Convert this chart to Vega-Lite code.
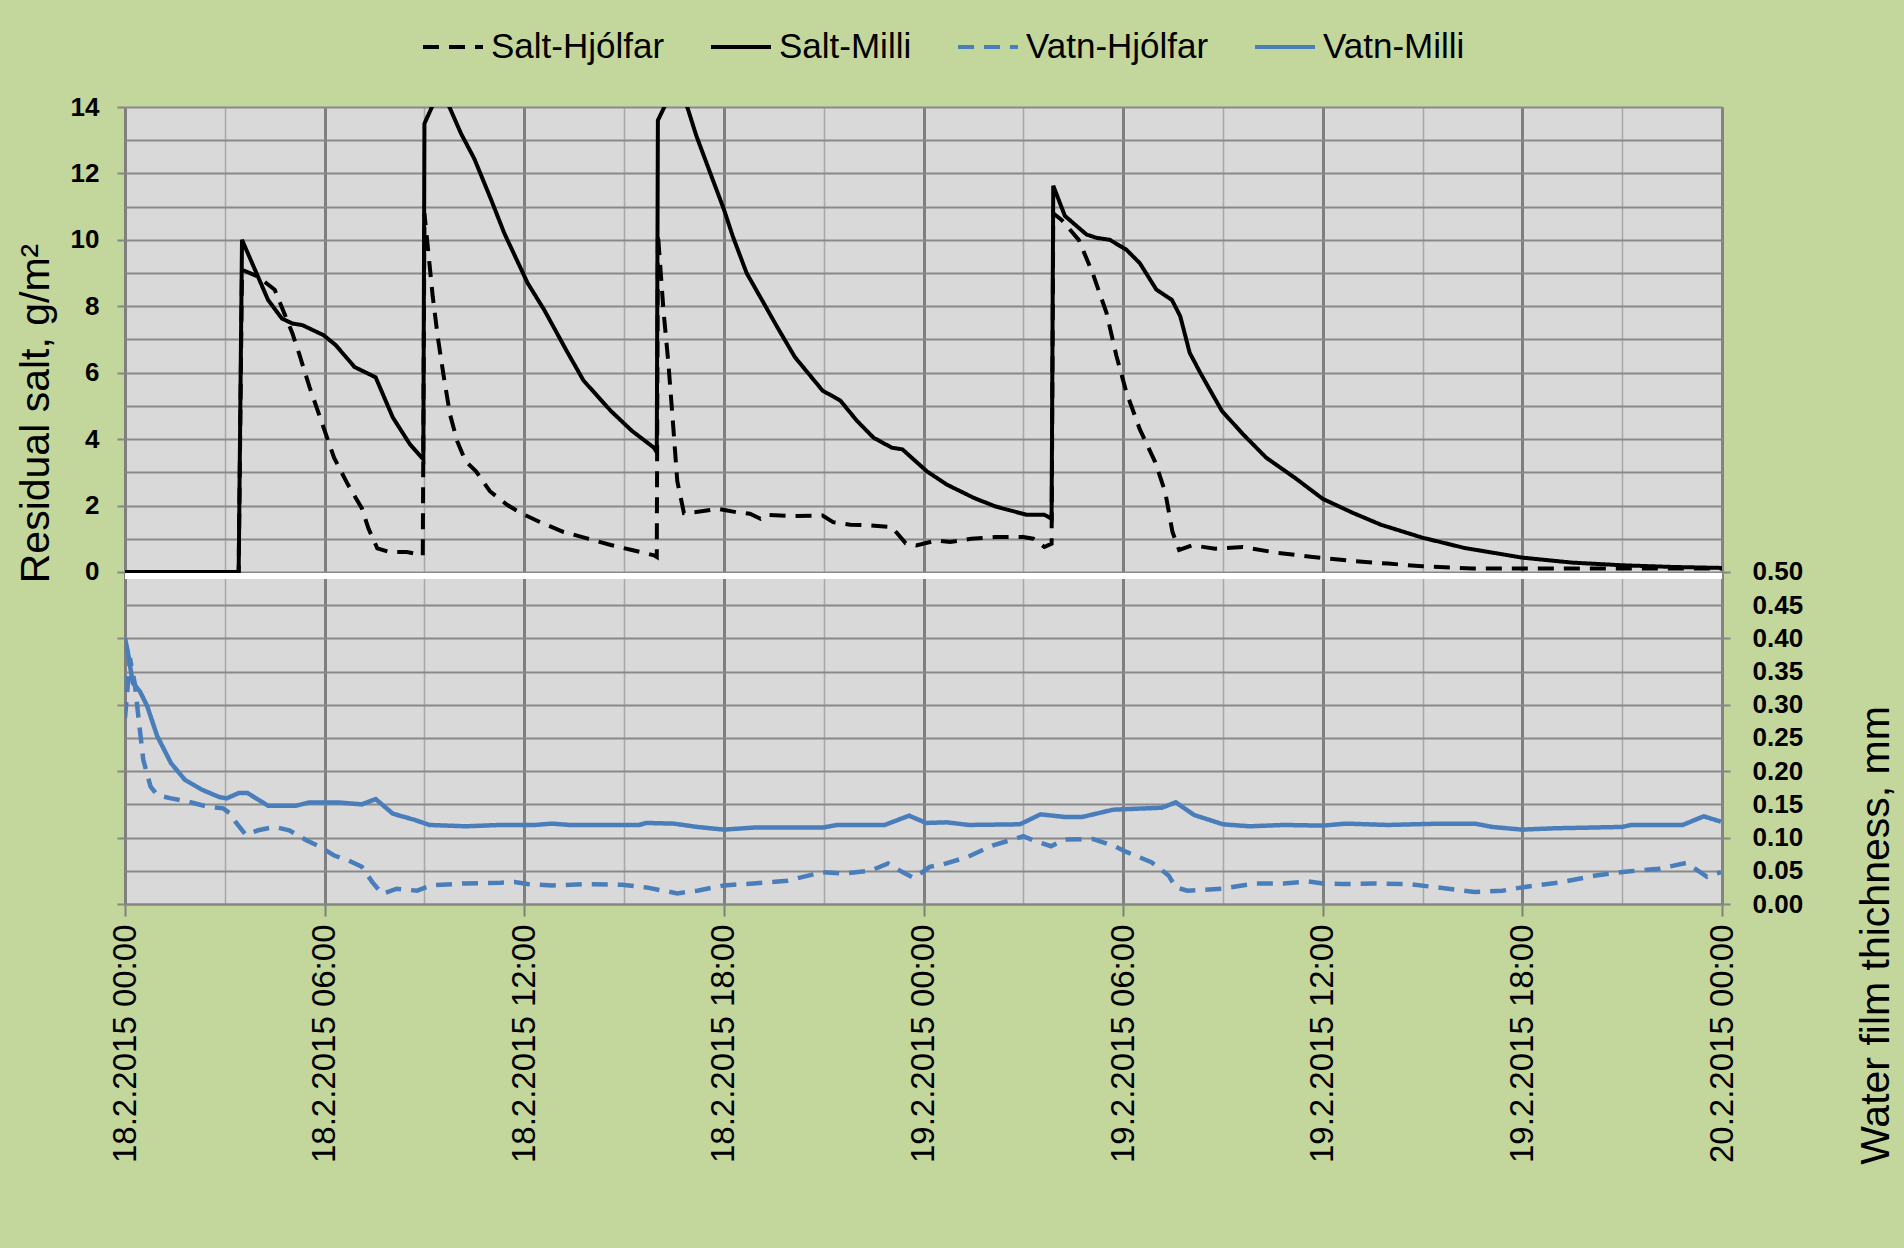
{
  "$schema": "https://vega.github.io/schema/vega-lite/v6.json",
  "width": 1597,
  "height": 797,
  "autosize": {"type": "none"},
  "padding": {"left": 125, "top": 107, "right": 182, "bottom": 344},
  "background": "#c3d69b",
  "config": {
    "view": {"fill": "#d9d9d9", "stroke": null},
    "font": "Liberation Sans",
    "axis": {"labelFont": "Liberation Sans", "titleFont": "Liberation Sans", "labelColor": "black", "titleColor": "black"}
  },
  "datasets": {
    "salt": [
      {"t": "2015-02-18T00:00", "series": "Salt-Milli", "v": 0},
      {"t": "2015-02-18T03:25", "series": "Salt-Milli", "v": 0},
      {"t": "2015-02-18T03:31", "series": "Salt-Milli", "v": 10.0},
      {"t": "2015-02-18T04:18", "series": "Salt-Milli", "v": 8.19},
      {"t": "2015-02-18T04:43", "series": "Salt-Milli", "v": 7.63},
      {"t": "2015-02-18T05:02", "series": "Salt-Milli", "v": 7.48},
      {"t": "2015-02-18T05:20", "series": "Salt-Milli", "v": 7.43},
      {"t": "2015-02-18T05:58", "series": "Salt-Milli", "v": 7.13},
      {"t": "2015-02-18T06:20", "series": "Salt-Milli", "v": 6.83},
      {"t": "2015-02-18T06:54", "series": "Salt-Milli", "v": 6.17},
      {"t": "2015-02-18T07:32", "series": "Salt-Milli", "v": 5.86},
      {"t": "2015-02-18T08:03", "series": "Salt-Milli", "v": 4.65},
      {"t": "2015-02-18T08:34", "series": "Salt-Milli", "v": 3.84},
      {"t": "2015-02-18T08:58", "series": "Salt-Milli", "v": 3.39},
      {"t": "2015-02-18T09:00", "series": "Salt-Milli", "v": 13.5},
      {"t": "2015-02-18T09:27", "series": "Salt-Milli", "v": 14.5},
      {"t": "2015-02-18T09:45", "series": "Salt-Milli", "v": 14.0},
      {"t": "2015-02-18T10:06", "series": "Salt-Milli", "v": 13.2},
      {"t": "2015-02-18T10:30", "series": "Salt-Milli", "v": 12.44},
      {"t": "2015-02-18T11:00", "series": "Salt-Milli", "v": 11.22},
      {"t": "2015-02-18T11:24", "series": "Salt-Milli", "v": 10.2},
      {"t": "2015-02-18T12:06", "series": "Salt-Milli", "v": 8.7},
      {"t": "2015-02-18T12:36", "series": "Salt-Milli", "v": 7.89},
      {"t": "2015-02-18T13:16", "series": "Salt-Milli", "v": 6.67},
      {"t": "2015-02-18T13:47", "series": "Salt-Milli", "v": 5.76},
      {"t": "2015-02-18T14:36", "series": "Salt-Milli", "v": 4.85},
      {"t": "2015-02-18T15:14", "series": "Salt-Milli", "v": 4.25},
      {"t": "2015-02-18T15:54", "series": "Salt-Milli", "v": 3.74},
      {"t": "2015-02-18T15:59", "series": "Salt-Milli", "v": 3.6},
      {"t": "2015-02-18T16:01", "series": "Salt-Milli", "v": 13.6},
      {"t": "2015-02-18T16:30", "series": "Salt-Milli", "v": 14.6},
      {"t": "2015-02-18T16:54", "series": "Salt-Milli", "v": 14.0},
      {"t": "2015-02-18T17:10", "series": "Salt-Milli", "v": 13.15},
      {"t": "2015-02-18T17:35", "series": "Salt-Milli", "v": 12.03},
      {"t": "2015-02-18T18:00", "series": "Salt-Milli", "v": 10.92},
      {"t": "2015-02-18T18:16", "series": "Salt-Milli", "v": 10.11},
      {"t": "2015-02-18T18:41", "series": "Salt-Milli", "v": 9.0},
      {"t": "2015-02-18T19:12", "series": "Salt-Milli", "v": 8.09},
      {"t": "2015-02-18T19:36", "series": "Salt-Milli", "v": 7.38},
      {"t": "2015-02-18T20:08", "series": "Salt-Milli", "v": 6.47},
      {"t": "2015-02-18T20:58", "series": "Salt-Milli", "v": 5.46},
      {"t": "2015-02-18T21:30", "series": "Salt-Milli", "v": 5.16},
      {"t": "2015-02-18T22:00", "series": "Salt-Milli", "v": 4.55},
      {"t": "2015-02-18T22:30", "series": "Salt-Milli", "v": 4.04},
      {"t": "2015-02-18T23:03", "series": "Salt-Milli", "v": 3.74},
      {"t": "2015-02-18T23:22", "series": "Salt-Milli", "v": 3.69},
      {"t": "2015-02-19T00:06", "series": "Salt-Milli", "v": 3.03},
      {"t": "2015-02-19T00:42", "series": "Salt-Milli", "v": 2.63},
      {"t": "2015-02-19T01:32", "series": "Salt-Milli", "v": 2.22},
      {"t": "2015-02-19T02:10", "series": "Salt-Milli", "v": 1.97},
      {"t": "2015-02-19T03:06", "series": "Salt-Milli", "v": 1.72},
      {"t": "2015-02-19T03:38", "series": "Salt-Milli", "v": 1.72},
      {"t": "2015-02-19T03:51", "series": "Salt-Milli", "v": 1.6},
      {"t": "2015-02-19T03:54", "series": "Salt-Milli", "v": 11.63},
      {"t": "2015-02-19T04:15", "series": "Salt-Milli", "v": 10.72},
      {"t": "2015-02-19T04:54", "series": "Salt-Milli", "v": 10.16},
      {"t": "2015-02-19T05:12", "series": "Salt-Milli", "v": 10.06},
      {"t": "2015-02-19T05:36", "series": "Salt-Milli", "v": 10.0},
      {"t": "2015-02-19T06:06", "series": "Salt-Milli", "v": 9.7},
      {"t": "2015-02-19T06:30", "series": "Salt-Milli", "v": 9.3},
      {"t": "2015-02-19T07:00", "series": "Salt-Milli", "v": 8.5},
      {"t": "2015-02-19T07:28", "series": "Salt-Milli", "v": 8.19},
      {"t": "2015-02-19T07:43", "series": "Salt-Milli", "v": 7.7},
      {"t": "2015-02-19T08:00", "series": "Salt-Milli", "v": 6.6},
      {"t": "2015-02-19T08:20", "series": "Salt-Milli", "v": 5.97},
      {"t": "2015-02-19T08:58", "series": "Salt-Milli", "v": 4.85},
      {"t": "2015-02-19T09:36", "series": "Salt-Milli", "v": 4.15},
      {"t": "2015-02-19T10:18", "series": "Salt-Milli", "v": 3.44},
      {"t": "2015-02-19T11:10", "series": "Salt-Milli", "v": 2.83},
      {"t": "2015-02-19T12:00", "series": "Salt-Milli", "v": 2.2},
      {"t": "2015-02-19T12:54", "series": "Salt-Milli", "v": 1.78},
      {"t": "2015-02-19T13:45", "series": "Salt-Milli", "v": 1.42},
      {"t": "2015-02-19T15:00", "series": "Salt-Milli", "v": 1.03},
      {"t": "2015-02-19T16:16", "series": "Salt-Milli", "v": 0.72},
      {"t": "2015-02-19T18:00", "series": "Salt-Milli", "v": 0.43},
      {"t": "2015-02-19T19:30", "series": "Salt-Milli", "v": 0.28},
      {"t": "2015-02-19T21:00", "series": "Salt-Milli", "v": 0.2},
      {"t": "2015-02-19T22:30", "series": "Salt-Milli", "v": 0.15},
      {"t": "2015-02-20T00:00", "series": "Salt-Milli", "v": 0.12},
      {"t": "2015-02-18T00:00", "series": "Salt-Hjólfar", "v": 0},
      {"t": "2015-02-18T03:25", "series": "Salt-Hjólfar", "v": 0},
      {"t": "2015-02-18T03:31", "series": "Salt-Hjólfar", "v": 9.1},
      {"t": "2015-02-18T03:59", "series": "Salt-Hjólfar", "v": 8.9},
      {"t": "2015-02-18T04:30", "series": "Salt-Hjólfar", "v": 8.5},
      {"t": "2015-02-18T05:02", "series": "Salt-Hjólfar", "v": 7.18},
      {"t": "2015-02-18T05:14", "series": "Salt-Hjólfar", "v": 6.57},
      {"t": "2015-02-18T05:33", "series": "Salt-Hjólfar", "v": 5.56},
      {"t": "2015-02-18T05:58", "series": "Salt-Hjólfar", "v": 4.35},
      {"t": "2015-02-18T06:17", "series": "Salt-Hjólfar", "v": 3.44},
      {"t": "2015-02-18T06:42", "series": "Salt-Hjólfar", "v": 2.63},
      {"t": "2015-02-18T07:07", "series": "Salt-Hjólfar", "v": 1.92},
      {"t": "2015-02-18T07:19", "series": "Salt-Hjólfar", "v": 1.31},
      {"t": "2015-02-18T07:35", "series": "Salt-Hjólfar", "v": 0.71},
      {"t": "2015-02-18T07:57", "series": "Salt-Hjólfar", "v": 0.6},
      {"t": "2015-02-18T08:28", "series": "Salt-Hjólfar", "v": 0.6},
      {"t": "2015-02-18T08:57", "series": "Salt-Hjólfar", "v": 0.5},
      {"t": "2015-02-18T09:00", "series": "Salt-Hjólfar", "v": 10.8},
      {"t": "2015-02-18T09:15", "series": "Salt-Hjólfar", "v": 8.29},
      {"t": "2015-02-18T09:24", "series": "Salt-Hjólfar", "v": 7.08},
      {"t": "2015-02-18T09:34", "series": "Salt-Hjólfar", "v": 5.97},
      {"t": "2015-02-18T09:46", "series": "Salt-Hjólfar", "v": 4.75},
      {"t": "2015-02-18T09:59", "series": "Salt-Hjólfar", "v": 3.94},
      {"t": "2015-02-18T10:14", "series": "Salt-Hjólfar", "v": 3.34},
      {"t": "2015-02-18T10:33", "series": "Salt-Hjólfar", "v": 3.03},
      {"t": "2015-02-18T10:58", "series": "Salt-Hjólfar", "v": 2.43},
      {"t": "2015-02-18T11:29", "series": "Salt-Hjólfar", "v": 2.02},
      {"t": "2015-02-18T11:54", "series": "Salt-Hjólfar", "v": 1.77},
      {"t": "2015-02-18T12:26", "series": "Salt-Hjólfar", "v": 1.52},
      {"t": "2015-02-18T13:10", "series": "Salt-Hjólfar", "v": 1.21},
      {"t": "2015-02-18T13:53", "series": "Salt-Hjólfar", "v": 1.01},
      {"t": "2015-02-18T14:36", "series": "Salt-Hjólfar", "v": 0.81},
      {"t": "2015-02-18T15:14", "series": "Salt-Hjólfar", "v": 0.66},
      {"t": "2015-02-18T15:54", "series": "Salt-Hjólfar", "v": 0.5},
      {"t": "2015-02-18T15:59", "series": "Salt-Hjólfar", "v": 0.45},
      {"t": "2015-02-18T16:01", "series": "Salt-Hjólfar", "v": 10.2},
      {"t": "2015-02-18T16:11", "series": "Salt-Hjólfar", "v": 7.89},
      {"t": "2015-02-18T16:20", "series": "Salt-Hjólfar", "v": 6.27},
      {"t": "2015-02-18T16:27", "series": "Salt-Hjólfar", "v": 4.75},
      {"t": "2015-02-18T16:36", "series": "Salt-Hjólfar", "v": 2.73},
      {"t": "2015-02-18T16:48", "series": "Salt-Hjólfar", "v": 1.77},
      {"t": "2015-02-18T17:07", "series": "Salt-Hjólfar", "v": 1.8},
      {"t": "2015-02-18T17:50", "series": "Salt-Hjólfar", "v": 1.9},
      {"t": "2015-02-18T18:22", "series": "Salt-Hjólfar", "v": 1.8},
      {"t": "2015-02-18T18:47", "series": "Salt-Hjólfar", "v": 1.75},
      {"t": "2015-02-18T19:06", "series": "Salt-Hjólfar", "v": 1.6},
      {"t": "2015-02-18T19:18", "series": "Salt-Hjólfar", "v": 1.72},
      {"t": "2015-02-18T20:08", "series": "Salt-Hjólfar", "v": 1.68},
      {"t": "2015-02-18T20:58", "series": "Salt-Hjólfar", "v": 1.7},
      {"t": "2015-02-18T21:17", "series": "Salt-Hjólfar", "v": 1.5},
      {"t": "2015-02-18T21:48", "series": "Salt-Hjólfar", "v": 1.42},
      {"t": "2015-02-18T22:25", "series": "Salt-Hjólfar", "v": 1.4},
      {"t": "2015-02-18T23:03", "series": "Salt-Hjólfar", "v": 1.35},
      {"t": "2015-02-18T23:28", "series": "Salt-Hjólfar", "v": 0.86},
      {"t": "2015-02-18T23:47", "series": "Salt-Hjólfar", "v": 0.8},
      {"t": "2015-02-19T00:24", "series": "Salt-Hjólfar", "v": 0.95},
      {"t": "2015-02-19T00:48", "series": "Salt-Hjólfar", "v": 0.9},
      {"t": "2015-02-19T01:26", "series": "Salt-Hjólfar", "v": 1.0},
      {"t": "2015-02-19T02:10", "series": "Salt-Hjólfar", "v": 1.05},
      {"t": "2015-02-19T03:00", "series": "Salt-Hjólfar", "v": 1.05},
      {"t": "2015-02-19T03:18", "series": "Salt-Hjólfar", "v": 1.0},
      {"t": "2015-02-19T03:38", "series": "Salt-Hjólfar", "v": 0.75},
      {"t": "2015-02-19T03:51", "series": "Salt-Hjólfar", "v": 0.85},
      {"t": "2015-02-19T03:54", "series": "Salt-Hjólfar", "v": 10.8},
      {"t": "2015-02-19T04:09", "series": "Salt-Hjólfar", "v": 10.6},
      {"t": "2015-02-19T04:40", "series": "Salt-Hjólfar", "v": 10.0},
      {"t": "2015-02-19T05:05", "series": "Salt-Hjólfar", "v": 9.0},
      {"t": "2015-02-19T05:30", "series": "Salt-Hjólfar", "v": 7.8},
      {"t": "2015-02-19T05:48", "series": "Salt-Hjólfar", "v": 6.5},
      {"t": "2015-02-19T06:06", "series": "Salt-Hjólfar", "v": 5.4},
      {"t": "2015-02-19T06:30", "series": "Salt-Hjólfar", "v": 4.3},
      {"t": "2015-02-19T06:58", "series": "Salt-Hjólfar", "v": 3.3},
      {"t": "2015-02-19T07:16", "series": "Salt-Hjólfar", "v": 2.4},
      {"t": "2015-02-19T07:29", "series": "Salt-Hjólfar", "v": 1.2},
      {"t": "2015-02-19T07:41", "series": "Salt-Hjólfar", "v": 0.66},
      {"t": "2015-02-19T08:05", "series": "Salt-Hjólfar", "v": 0.8},
      {"t": "2015-02-19T08:46", "series": "Salt-Hjólfar", "v": 0.7},
      {"t": "2015-02-19T09:36", "series": "Salt-Hjólfar", "v": 0.75},
      {"t": "2015-02-19T10:36", "series": "Salt-Hjólfar", "v": 0.58},
      {"t": "2015-02-19T11:42", "series": "Salt-Hjólfar", "v": 0.45},
      {"t": "2015-02-19T12:00", "series": "Salt-Hjólfar", "v": 0.42},
      {"t": "2015-02-19T12:54", "series": "Salt-Hjólfar", "v": 0.33},
      {"t": "2015-02-19T13:58", "series": "Salt-Hjólfar", "v": 0.25},
      {"t": "2015-02-19T15:00", "series": "Salt-Hjólfar", "v": 0.17},
      {"t": "2015-02-19T16:30", "series": "Salt-Hjólfar", "v": 0.1},
      {"t": "2015-02-19T18:00", "series": "Salt-Hjólfar", "v": 0.1},
      {"t": "2015-02-19T20:00", "series": "Salt-Hjólfar", "v": 0.1},
      {"t": "2015-02-19T22:00", "series": "Salt-Hjólfar", "v": 0.1},
      {"t": "2015-02-20T00:00", "series": "Salt-Hjólfar", "v": 0.1}
    ],
    "water": [
      {"t": "2015-02-18T00:00", "series": "Vatn-Milli", "v": 0.40},
      {"t": "2015-02-18T00:05", "series": "Vatn-Milli", "v": 0.38},
      {"t": "2015-02-18T00:14", "series": "Vatn-Milli", "v": 0.333},
      {"t": "2015-02-18T00:27", "series": "Vatn-Milli", "v": 0.32},
      {"t": "2015-02-18T00:40", "series": "Vatn-Milli", "v": 0.298},
      {"t": "2015-02-18T00:58", "series": "Vatn-Milli", "v": 0.253},
      {"t": "2015-02-18T01:23", "series": "Vatn-Milli", "v": 0.212},
      {"t": "2015-02-18T01:48", "series": "Vatn-Milli", "v": 0.187},
      {"t": "2015-02-18T02:19", "series": "Vatn-Milli", "v": 0.172},
      {"t": "2015-02-18T02:50", "series": "Vatn-Milli", "v": 0.161},
      {"t": "2015-02-18T03:03", "series": "Vatn-Milli", "v": 0.159},
      {"t": "2015-02-18T03:25", "series": "Vatn-Milli", "v": 0.167},
      {"t": "2015-02-18T03:41", "series": "Vatn-Milli", "v": 0.167},
      {"t": "2015-02-18T04:18", "series": "Vatn-Milli", "v": 0.148},
      {"t": "2015-02-18T05:08", "series": "Vatn-Milli", "v": 0.148},
      {"t": "2015-02-18T05:33", "series": "Vatn-Milli", "v": 0.153},
      {"t": "2015-02-18T06:23", "series": "Vatn-Milli", "v": 0.153},
      {"t": "2015-02-18T07:07", "series": "Vatn-Milli", "v": 0.15},
      {"t": "2015-02-18T07:32", "series": "Vatn-Milli", "v": 0.158},
      {"t": "2015-02-18T08:03", "series": "Vatn-Milli", "v": 0.136},
      {"t": "2015-02-18T08:41", "series": "Vatn-Milli", "v": 0.127},
      {"t": "2015-02-18T09:09", "series": "Vatn-Milli", "v": 0.119},
      {"t": "2015-02-18T10:14", "series": "Vatn-Milli", "v": 0.117},
      {"t": "2015-02-18T11:17", "series": "Vatn-Milli", "v": 0.119},
      {"t": "2015-02-18T12:19", "series": "Vatn-Milli", "v": 0.119},
      {"t": "2015-02-18T12:50", "series": "Vatn-Milli", "v": 0.121},
      {"t": "2015-02-18T13:22", "series": "Vatn-Milli", "v": 0.119},
      {"t": "2015-02-18T15:27", "series": "Vatn-Milli", "v": 0.119},
      {"t": "2015-02-18T15:40", "series": "Vatn-Milli", "v": 0.122},
      {"t": "2015-02-18T16:30", "series": "Vatn-Milli", "v": 0.121},
      {"t": "2015-02-18T17:12", "series": "Vatn-Milli", "v": 0.116},
      {"t": "2015-02-18T18:00", "series": "Vatn-Milli", "v": 0.112},
      {"t": "2015-02-18T18:53", "series": "Vatn-Milli", "v": 0.115},
      {"t": "2015-02-18T20:58", "series": "Vatn-Milli", "v": 0.115},
      {"t": "2015-02-18T21:24", "series": "Vatn-Milli", "v": 0.119},
      {"t": "2015-02-18T22:50", "series": "Vatn-Milli", "v": 0.119},
      {"t": "2015-02-18T23:34", "series": "Vatn-Milli", "v": 0.133},
      {"t": "2015-02-19T00:05", "series": "Vatn-Milli", "v": 0.122},
      {"t": "2015-02-19T00:42", "series": "Vatn-Milli", "v": 0.123},
      {"t": "2015-02-19T01:21", "series": "Vatn-Milli", "v": 0.119},
      {"t": "2015-02-19T02:54", "series": "Vatn-Milli", "v": 0.12},
      {"t": "2015-02-19T03:31", "series": "Vatn-Milli", "v": 0.135},
      {"t": "2015-02-19T04:15", "series": "Vatn-Milli", "v": 0.131},
      {"t": "2015-02-19T04:46", "series": "Vatn-Milli", "v": 0.131},
      {"t": "2015-02-19T05:42", "series": "Vatn-Milli", "v": 0.142},
      {"t": "2015-02-19T07:10", "series": "Vatn-Milli", "v": 0.145},
      {"t": "2015-02-19T07:35", "series": "Vatn-Milli", "v": 0.153},
      {"t": "2015-02-19T08:08", "series": "Vatn-Milli", "v": 0.134},
      {"t": "2015-02-19T09:00", "series": "Vatn-Milli", "v": 0.12},
      {"t": "2015-02-19T09:48", "series": "Vatn-Milli", "v": 0.117},
      {"t": "2015-02-19T10:50", "series": "Vatn-Milli", "v": 0.119},
      {"t": "2015-02-19T12:00", "series": "Vatn-Milli", "v": 0.118},
      {"t": "2015-02-19T12:42", "series": "Vatn-Milli", "v": 0.121},
      {"t": "2015-02-19T13:58", "series": "Vatn-Milli", "v": 0.119},
      {"t": "2015-02-19T15:32", "series": "Vatn-Milli", "v": 0.121},
      {"t": "2015-02-19T16:34", "series": "Vatn-Milli", "v": 0.121},
      {"t": "2015-02-19T17:06", "series": "Vatn-Milli", "v": 0.116},
      {"t": "2015-02-19T17:59", "series": "Vatn-Milli", "v": 0.112},
      {"t": "2015-02-19T18:58", "series": "Vatn-Milli", "v": 0.114},
      {"t": "2015-02-19T21:00", "series": "Vatn-Milli", "v": 0.116},
      {"t": "2015-02-19T21:16", "series": "Vatn-Milli", "v": 0.119},
      {"t": "2015-02-19T22:49", "series": "Vatn-Milli", "v": 0.119},
      {"t": "2015-02-19T23:27", "series": "Vatn-Milli", "v": 0.132},
      {"t": "2015-02-19T23:58", "series": "Vatn-Milli", "v": 0.124},
      {"t": "2015-02-18T00:00", "series": "Vatn-Hjólfar", "v": 0.28},
      {"t": "2015-02-18T00:09", "series": "Vatn-Hjólfar", "v": 0.37},
      {"t": "2015-02-18T00:18", "series": "Vatn-Hjólfar", "v": 0.33},
      {"t": "2015-02-18T00:24", "series": "Vatn-Hjólfar", "v": 0.283},
      {"t": "2015-02-18T00:33", "series": "Vatn-Hjólfar", "v": 0.217},
      {"t": "2015-02-18T00:46", "series": "Vatn-Hjólfar", "v": 0.177},
      {"t": "2015-02-18T00:58", "series": "Vatn-Hjólfar", "v": 0.164},
      {"t": "2015-02-18T01:23", "series": "Vatn-Hjólfar", "v": 0.159},
      {"t": "2015-02-18T01:54", "series": "Vatn-Hjólfar", "v": 0.154},
      {"t": "2015-02-18T02:32", "series": "Vatn-Hjólfar", "v": 0.146},
      {"t": "2015-02-18T02:57", "series": "Vatn-Hjólfar", "v": 0.144},
      {"t": "2015-02-18T03:10", "series": "Vatn-Hjólfar", "v": 0.136},
      {"t": "2015-02-18T03:19", "series": "Vatn-Hjólfar", "v": 0.124},
      {"t": "2015-02-18T03:38", "series": "Vatn-Hjólfar", "v": 0.104},
      {"t": "2015-02-18T04:00", "series": "Vatn-Hjólfar", "v": 0.111},
      {"t": "2015-02-18T04:30", "series": "Vatn-Hjólfar", "v": 0.116},
      {"t": "2015-02-18T04:56", "series": "Vatn-Hjólfar", "v": 0.111},
      {"t": "2015-02-18T05:27", "series": "Vatn-Hjólfar", "v": 0.096},
      {"t": "2015-02-18T05:52", "series": "Vatn-Hjólfar", "v": 0.086},
      {"t": "2015-02-18T06:17", "series": "Vatn-Hjólfar", "v": 0.073},
      {"t": "2015-02-18T06:42", "series": "Vatn-Hjólfar", "v": 0.066},
      {"t": "2015-02-18T07:07", "series": "Vatn-Hjólfar", "v": 0.056},
      {"t": "2015-02-18T07:26", "series": "Vatn-Hjólfar", "v": 0.033},
      {"t": "2015-02-18T07:44", "series": "Vatn-Hjólfar", "v": 0.015},
      {"t": "2015-02-18T08:10", "series": "Vatn-Hjólfar", "v": 0.023},
      {"t": "2015-02-18T08:47", "series": "Vatn-Hjólfar", "v": 0.02},
      {"t": "2015-02-18T09:12", "series": "Vatn-Hjólfar", "v": 0.028},
      {"t": "2015-02-18T10:14", "series": "Vatn-Hjólfar", "v": 0.031},
      {"t": "2015-02-18T11:17", "series": "Vatn-Hjólfar", "v": 0.032},
      {"t": "2015-02-18T11:42", "series": "Vatn-Hjólfar", "v": 0.033},
      {"t": "2015-02-18T12:06", "series": "Vatn-Hjólfar", "v": 0.03},
      {"t": "2015-02-18T12:50", "series": "Vatn-Hjólfar", "v": 0.028},
      {"t": "2015-02-18T13:54", "series": "Vatn-Hjólfar", "v": 0.03},
      {"t": "2015-02-18T14:56", "series": "Vatn-Hjólfar", "v": 0.029},
      {"t": "2015-02-18T15:40", "series": "Vatn-Hjólfar", "v": 0.025},
      {"t": "2015-02-18T16:36", "series": "Vatn-Hjólfar", "v": 0.016},
      {"t": "2015-02-18T17:12", "series": "Vatn-Hjólfar", "v": 0.02},
      {"t": "2015-02-18T18:00", "series": "Vatn-Hjólfar", "v": 0.028},
      {"t": "2015-02-18T18:53", "series": "Vatn-Hjólfar", "v": 0.031},
      {"t": "2015-02-18T19:54", "series": "Vatn-Hjólfar", "v": 0.035},
      {"t": "2015-02-18T20:58", "series": "Vatn-Hjólfar", "v": 0.048},
      {"t": "2015-02-18T21:36", "series": "Vatn-Hjólfar", "v": 0.046},
      {"t": "2015-02-18T22:24", "series": "Vatn-Hjólfar", "v": 0.05},
      {"t": "2015-02-18T22:56", "series": "Vatn-Hjólfar", "v": 0.061},
      {"t": "2015-02-18T23:22", "series": "Vatn-Hjólfar", "v": 0.048},
      {"t": "2015-02-18T23:43", "series": "Vatn-Hjólfar", "v": 0.039},
      {"t": "2015-02-19T00:11", "series": "Vatn-Hjólfar", "v": 0.056},
      {"t": "2015-02-19T00:36", "series": "Vatn-Hjólfar", "v": 0.06},
      {"t": "2015-02-19T01:20", "series": "Vatn-Hjólfar", "v": 0.071},
      {"t": "2015-02-19T02:04", "series": "Vatn-Hjólfar", "v": 0.088},
      {"t": "2015-02-19T03:00", "series": "Vatn-Hjólfar", "v": 0.102},
      {"t": "2015-02-19T03:18", "series": "Vatn-Hjólfar", "v": 0.096},
      {"t": "2015-02-19T03:50", "series": "Vatn-Hjólfar", "v": 0.087},
      {"t": "2015-02-19T04:15", "series": "Vatn-Hjólfar", "v": 0.097},
      {"t": "2015-02-19T05:05", "series": "Vatn-Hjólfar", "v": 0.098},
      {"t": "2015-02-19T05:42", "series": "Vatn-Hjólfar", "v": 0.088},
      {"t": "2015-02-19T06:07", "series": "Vatn-Hjólfar", "v": 0.078},
      {"t": "2015-02-19T06:51", "series": "Vatn-Hjólfar", "v": 0.063},
      {"t": "2015-02-19T07:22", "series": "Vatn-Hjólfar", "v": 0.043},
      {"t": "2015-02-19T07:35", "series": "Vatn-Hjólfar", "v": 0.025},
      {"t": "2015-02-19T07:56", "series": "Vatn-Hjólfar", "v": 0.02},
      {"t": "2015-02-19T08:58", "series": "Vatn-Hjólfar", "v": 0.023},
      {"t": "2015-02-19T10:00", "series": "Vatn-Hjólfar", "v": 0.031},
      {"t": "2015-02-19T10:50", "series": "Vatn-Hjólfar", "v": 0.031},
      {"t": "2015-02-19T11:34", "series": "Vatn-Hjólfar", "v": 0.034},
      {"t": "2015-02-19T12:00", "series": "Vatn-Hjólfar", "v": 0.031},
      {"t": "2015-02-19T12:36", "series": "Vatn-Hjólfar", "v": 0.03},
      {"t": "2015-02-19T13:33", "series": "Vatn-Hjólfar", "v": 0.031},
      {"t": "2015-02-19T14:36", "series": "Vatn-Hjólfar", "v": 0.03},
      {"t": "2015-02-19T15:26", "series": "Vatn-Hjólfar", "v": 0.025},
      {"t": "2015-02-19T16:34", "series": "Vatn-Hjólfar", "v": 0.018},
      {"t": "2015-02-19T17:24", "series": "Vatn-Hjólfar", "v": 0.02},
      {"t": "2015-02-19T17:59", "series": "Vatn-Hjólfar", "v": 0.025},
      {"t": "2015-02-19T19:11", "series": "Vatn-Hjólfar", "v": 0.033},
      {"t": "2015-02-19T20:13", "series": "Vatn-Hjólfar", "v": 0.043},
      {"t": "2015-02-19T21:10", "series": "Vatn-Hjólfar", "v": 0.049},
      {"t": "2015-02-19T22:06", "series": "Vatn-Hjólfar", "v": 0.053},
      {"t": "2015-02-19T22:56", "series": "Vatn-Hjólfar", "v": 0.062},
      {"t": "2015-02-19T23:33", "series": "Vatn-Hjólfar", "v": 0.041},
      {"t": "2015-02-19T23:58", "series": "Vatn-Hjólfar", "v": 0.048}
    ]
  },
  "layer": [
    {
      "data": {"name": "salt"},
      "mark": {"type": "line", "clip": true, "strokeWidth": 4},
      "encoding": {
        "x": {
          "field": "t", "type": "temporal",
          "scale": {"domain": [{"year": 2015, "month": 2, "date": 18, "hours": 0}, {"year": 2015, "month": 2, "date": 20, "hours": 0}], "nice": false},
          "axis": {
            "title": null,
            "values": [
              {"year": 2015, "month": 2, "date": 18, "hours": 0},
              {"year": 2015, "month": 2, "date": 18, "hours": 3},
              {"year": 2015, "month": 2, "date": 18, "hours": 6},
              {"year": 2015, "month": 2, "date": 18, "hours": 9},
              {"year": 2015, "month": 2, "date": 18, "hours": 12},
              {"year": 2015, "month": 2, "date": 18, "hours": 15},
              {"year": 2015, "month": 2, "date": 18, "hours": 18},
              {"year": 2015, "month": 2, "date": 18, "hours": 21},
              {"year": 2015, "month": 2, "date": 19, "hours": 0},
              {"year": 2015, "month": 2, "date": 19, "hours": 3},
              {"year": 2015, "month": 2, "date": 19, "hours": 6},
              {"year": 2015, "month": 2, "date": 19, "hours": 9},
              {"year": 2015, "month": 2, "date": 19, "hours": 12},
              {"year": 2015, "month": 2, "date": 19, "hours": 15},
              {"year": 2015, "month": 2, "date": 19, "hours": 18},
              {"year": 2015, "month": 2, "date": 19, "hours": 21},
              {"year": 2015, "month": 2, "date": 20, "hours": 0}
            ],
            "format": "%-d.%-m.%Y %H:%M",
            "labelExpr": "hours(datum.value) % 6 == 0 ? datum.label : ''",
            "labelAngle": 270,
            "labelAlign": "right",
            "labelBaseline": "middle",
            "labelFontSize": 33,
            "labelPadding": 8,
            "labelLimit": 400,
            "labelFlush": false,
            "labelOverlap": false,
            "grid": true,
            "gridColor": {"condition": {"test": "hours(datum.value) % 6 == 0", "value": "#7f7f7f"}, "value": "#a8a8a8"},
            "gridWidth": {"condition": {"test": "hours(datum.value) % 6 == 0", "value": 3}, "value": 1.5},
            "tickSize": 12,
            "tickColor": "#7f7f7f",
            "tickWidth": 2,
            "tickOpacity": {"condition": {"test": "hours(datum.value) % 6 == 0", "value": 1}, "value": 0},
            "domainColor": "#868686",
            "domainWidth": 2
          }
        },
        "y": {
          "field": "v", "type": "quantitative",
          "scale": {"domain": [-10, 14], "nice": false, "zero": false},
          "axis": {
            "title": "Residual salt, g/m²",
            "values": [-10, -9, -8, -7, -6, -5, -4, -3, -2, -1, 0, 1, 2, 3, 4, 5, 6, 7, 8, 9, 10, 11, 12, 13, 14],
            "labelExpr": "datum.value >= 0 && datum.value % 2 == 0 ? datum.label : ''",
            "labelFontSize": 26,
            "labelFontWeight": "bold",
            "labelPadding": 18,
            "grid": true,
            "gridColor": "#898989",
            "gridWidth": 2,
            "domain": false,
            "tickSize": 8,
            "tickColor": "#868686",
            "tickWidth": 2,
            "tickOpacity": {"condition": {"test": "datum.value % 2 == 0", "value": 1}, "value": 0},
            "titleFontSize": 41,
            "titleFontWeight": "normal",
            "titleAngle": 270,
            "titleAlign": "center",
            "titleBaseline": "middle",
            "titleX": -89,
            "titleY": 306
          }
        },
        "color": {
          "field": "series", "type": "nominal",
          "scale": {"domain": ["Salt-Hjólfar", "Salt-Milli", "Vatn-Hjólfar", "Vatn-Milli"], "range": ["#000000", "#000000", "#4a7ebb", "#4a7ebb"]},
          "legend": {"orient": "none", "legendX": 296, "legendY": -92, "direction": "horizontal", "title": null, "labelFontSize": 35, "labelColor": "black", "labelFont": "Liberation Sans", "symbolType": "stroke", "symbolSize": 3600, "symbolStrokeWidth": 4, "columnPadding": 38, "labelOffset": 6, "labelLimit": 400}
        },
        "strokeDash": {
          "field": "series", "type": "nominal",
          "scale": {"domain": ["Salt-Hjólfar", "Salt-Milli", "Vatn-Hjólfar", "Vatn-Milli"], "range": [[16, 10], [1, 0], [16, 10], [1, 0]]},
          "legend": {"orient": "none", "legendX": 296, "legendY": -92, "direction": "horizontal", "title": null, "labelFontSize": 35, "labelColor": "black", "labelFont": "Liberation Sans", "symbolType": "stroke", "symbolSize": 3600, "symbolStrokeWidth": 4, "columnPadding": 38, "labelOffset": 6, "labelLimit": 400}
        }
      }
    },
    {
      "data": {"name": "water"},
      "layer": [
        {
          "mark": {"type": "rule", "color": "white", "strokeWidth": 5},
          "encoding": {
            "y": {
              "datum": 0.494, "type": "quantitative",
              "scale": {"domain": [0, 1.2], "nice": false}
            }
          }
        },
        {
          "mark": {"type": "line", "clip": true, "strokeWidth": 4.5},
          "encoding": {
            "x": {"field": "t", "type": "temporal"},
            "y": {
              "field": "v", "type": "quantitative",
              "scale": {"domain": [0, 1.2], "nice": false},
              "axis": {
                "orient": "right",
                "title": "Water film thichness, mm",
                "values": [0, 0.05, 0.1, 0.15, 0.2, 0.25, 0.3, 0.35, 0.4, 0.45, 0.5],
                "format": ".2f",
                "labelFontSize": 26,
                "labelFontWeight": "bold",
                "labelPadding": 22,
                "grid": false,
                "domain": true,
                "domainColor": "#868686",
                "domainWidth": 2,
                "tickSize": 8,
                "tickColor": "#868686",
                "tickWidth": 2,
                "tickOpacity": {"condition": {"test": "round(datum.value * 20) % 2 == 0", "value": 1}, "value": 0},
                "titleFontSize": 41,
                "titleFontWeight": "normal",
                "titleAngle": 270,
                "titleAlign": "center",
                "titleBaseline": "middle",
                "titleX": 154,
                "titleY": 828
              }
            },
            "color": {
              "field": "series", "type": "nominal",
              "scale": {"domain": ["Salt-Hjólfar", "Salt-Milli", "Vatn-Hjólfar", "Vatn-Milli"], "range": ["#000000", "#000000", "#4a7ebb", "#4a7ebb"]}
            },
            "strokeDash": {
              "field": "series", "type": "nominal",
              "scale": {"domain": ["Salt-Hjólfar", "Salt-Milli", "Vatn-Hjólfar", "Vatn-Milli"], "range": [[16, 10], [1, 0], [16, 10], [1, 0]]}
            }
          }
        }
      ]
    }
  ],
  "resolve": {"scale": {"y": "independent"}}
}
